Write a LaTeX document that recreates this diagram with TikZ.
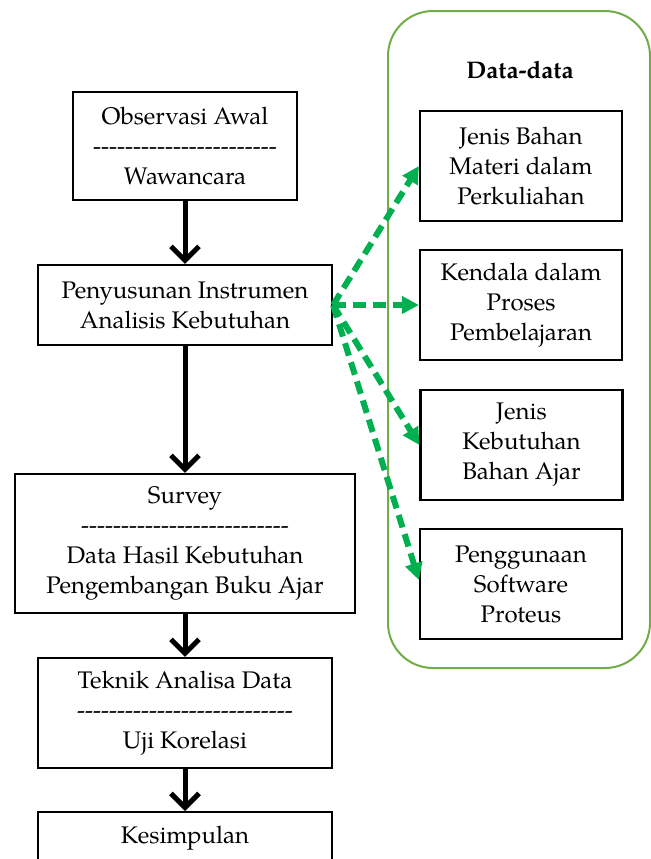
\documentclass[tikz,border=0pt]{standalone}
\usepackage{fontspec}
\setmainfont{TeX Gyre Pagella}[Ligatures=TeXOff]
\usetikzlibrary{arrows.meta}
\definecolor{dgreen}{HTML}{00B050}
\definecolor{pgreen}{HTML}{70AD47}
\begin{document}
\begin{tikzpicture}[x=0.5pt,y=-0.5pt,
  box/.style={draw, line width=1.1pt, align=center, inner sep=0pt, font=\fontsize{12}{15}\selectfont},
  flow/.style={line width=2.5pt, -{Straight Barb[length=7pt,width=14pt]}},
  datalink/.style={dgreen, line width=3pt, dash pattern=on 6.5pt off 3.5pt, -{Triangle[length=8.5pt,width=8.5pt]}}]
\clip (0,0) rectangle (651,859);
% left column
\node[box, minimum width=112pt, minimum height=54pt] (b1) at (185,146)
  {Observasi Awal\\-----------------------\\Wawancara};
\node[box, minimum width=147pt, minimum height=40pt] (b2) at (185,305)
  {Penyusunan Instrumen\\Analisis Kebutuhan};
\node[box, minimum width=170pt, minimum height=69.5pt] (b3) at (185,543.5)
  {Survey\\--------------------------\\Data Hasil Kebutuhan\\Pengembangan Buku Ajar};
\node[box, minimum width=147pt, minimum height=55pt] (b4) at (185,713)
  {Teknik Analisa Data\\---------------------------\\Uji Korelasi};
\node[box, minimum width=147pt, minimum height=40pt, anchor=north] (b5) at (185,811) {};
\node[font=\fontsize{12}{15}\selectfont] (t5) at (185,838) {Kesimpulan};
% right panel
\draw[pgreen, line width=1pt, rounded corners=22.5pt] (388,11) rectangle (650,668);
\node[font=\fontsize{12}{15}\selectfont\bfseries] (title) at (520,70) {Data-data};
\node[box, minimum width=101pt, minimum height=55pt] (bA) at (521,166)
  {Jenis Bahan\\Materi dalam\\Perkuliahan};
\node[box, minimum width=101pt, minimum height=55pt] (bB) at (521,305)
  {Kendala dalam\\Proses\\Pembelajaran};
\node[box, minimum width=101pt, minimum height=55pt] (bC) at (521.5,445)
  {Jenis\\Kebutuhan\\Bahan Ajar};
\node[box, minimum width=101pt, minimum height=55pt] (bD) at (521,584)
  {Penggunaan\\Software\\Proteus};
% flow arrows
\draw[flow] (b1.south) -- (b2.north);
\draw[flow] (b2.south) -- (b3.north);
\draw[flow] (b3.south) -- (b4.north);
\draw[flow] (b4.south) -- (b5.north);
% data links
\draw[datalink] (b2.east) -- (bA.west);
\draw[datalink] (b2.east) -- (bB.west);
\draw[datalink] (b2.east) -- (bC.west);
\draw[datalink] (b2.east) -- ([yshift=2pt]bD.west);
\end{tikzpicture}
\end{document}
